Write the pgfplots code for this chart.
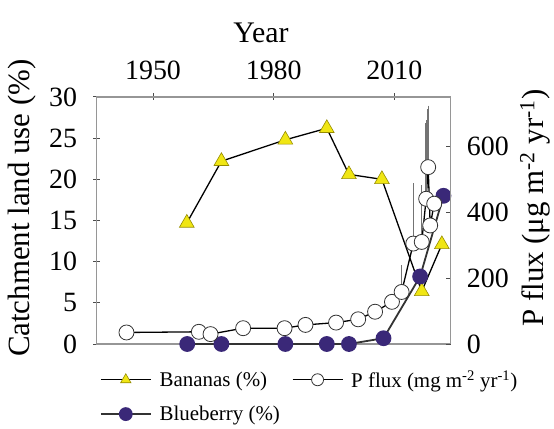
\documentclass[border=0pt]{standalone}
\usepackage{fontspec}
\setmainfont{Liberation Serif}
\usepackage{pgfplots}
\pgfplotsset{compat=1.18}
\definecolor{banyellow}{RGB}{240,230,20}
\definecolor{banedge}{RGB}{150,140,0}
\definecolor{blueb}{RGB}{58,40,120}
\definecolor{framegray}{RGB}{150,150,150}
\pgfplotsset{
  bananas/.style={black, line width=1.3bp, mark=triangle*, mark size=8.5bp, mark options={fill=banyellow, draw=banedge, line width=0.6bp}},
  blueberry/.style={black!80, line width=1.8bp, mark=*, mark size=7bp, mark options={fill=blueb, draw=blueb}},
  pflux/.style={black, line width=1.3bp, mark=*, mark size=7.5bp, mark options={fill=white, draw=black!80, line width=0.8bp}},
  common/.style={scale only axis, width=354bp, height=247bp, xmin=1936, xmax=2024,
    /pgf/number format/assume math mode=true,
    /pgf/number format/1000 sep={},
    tick label style={font=\fontsize{28}{30}\selectfont, inner sep=0pt},
    axis line style={framegray, line width=1.2bp},
    tick style={black!70, line width=1bp}, clip=false}
}
\begin{document}
\begin{tikzpicture}
\useasboundingbox (-96.7bp,-85bp) rectangle (457.3bp,344bp);
\begin{axis}[common,
  ymin=0, ymax=30,
  xtick={1950,1980,2010}, xtick pos=upper, xticklabel pos=upper,
  ytick={0,5,...,30}, ytick pos=left,
  tick align=center, major tick length=7bp,
  xticklabel style={anchor=south, yshift=14bp},
  yticklabel style={anchor=east, xshift=-16bp},
  xlabel={Year},
  xlabel style={font=\fontsize{30}{32}\selectfont, at={(axis description cs:0.464,1)}, anchor=south, yshift=54bp, inner sep=0pt},
  ylabel={Catchment land use (\%)},
  ylabel style={font=\fontsize{31}{33}\selectfont, at={(axis description cs:-0.211,0.55)}, anchor=center, inner sep=0pt},
]
\addplot[bananas] coordinates {
(1958.4,14.7) (1967.0,22.2) (1982.9,24.8) (1993.2,26.2) (1998.7,20.6) (2006.9,20.0) (2016.8,6.4) (2021.8,12.1)
};
\addplot[blueberry] coordinates {
(1958.5,0) (1967.0,0) (1982.9,0) (1993.2,0) (1998.7,0) (2007.3,0.7) (2016.4,8.2) (2022.2,18.0)
};
\end{axis}
\begin{axis}[common,
  ymin=0, ymax=750,
  axis x line=none, axis y line*=right,
  ytick={0,200,400,600},
  tick align=inside, major tick length=5bp,
  yticklabel style={anchor=west, xshift=16bp},
  ylabel={P flux (μg m\textsuperscript{-2} yr\textsuperscript{-1})},
  ylabel style={font=\fontsize{31}{33}\selectfont, at={(axis description cs:1.238,0.55)}, anchor=center, inner sep=0pt},
  legend columns=2,
  legend cell align=left,
  legend style={at={(axis description cs:0.0,-0.09)}, anchor=north west, draw=none, fill=none,
    font=\fontsize{21}{23}\selectfont, row sep=13bp,
    /tikz/every odd column/.append style={column sep=6bp},
    /tikz/every even column/.append style={column sep=10bp}},
  legend image code/.code={\draw[mark repeat=2,mark phase=2,#1,mark size=6bp] plot coordinates {(0bp,0bp) (25bp,0bp) (50bp,0bp)};},
]
\addlegendimage{bananas}
\addlegendentry{Bananas (\%)}
\addplot[pflux, error bars/.cd, y dir=plus, y explicit,
  error bar style={black!55, line width=1.5bp},
  error mark options={black!55, mark size=3bp, line width=1.2bp}]
  table[x=x, y=y, y error=e] {
x y e
1943.4 35 0
1961.4 37 0
1964.3 30 0
1972.4 48 0
1982.7 48 0
1987.9 58 0
1995.5 65 0
2001.0 75 0
2005.2 98 0
2009.4 128 0
2011.8 158 72
2014.7 305 174
2016.8 310 163
2017.9 441 229
2018.4 537 178
2018.9 360 0
2019.9 426 0
};
\addlegendentry{P flux (mg m\textsuperscript{-2} yr\textsuperscript{-1})}
\addlegendimage{blueberry}
\addlegendentry{Blueberry (\%)}
\end{axis}
\end{tikzpicture}
\end{document}
